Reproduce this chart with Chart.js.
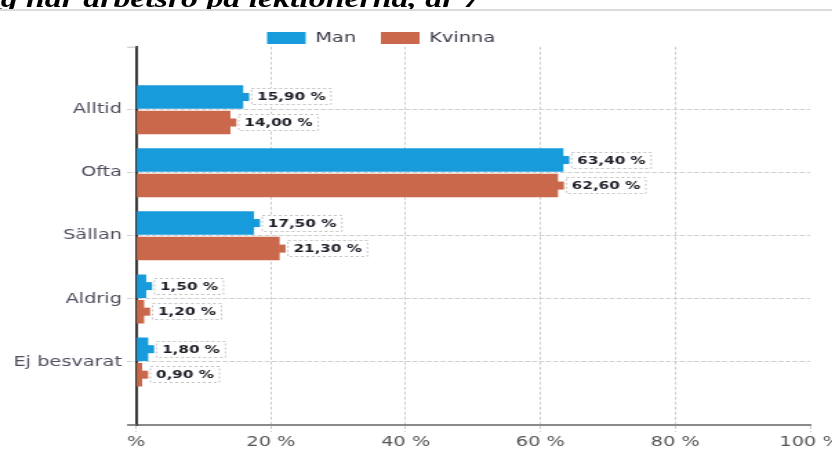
<!DOCTYPE html>
<html>
<head>
<meta charset="utf-8">
<script src="https://cdn.jsdelivr.net/npm/chart.js@4"></script>
<style>
html,body{margin:0;padding:0;background:#fff;}
#outer{position:relative;width:832px;height:452px;overflow:hidden;background:#fff;}
#inner{position:absolute;left:0;top:0;width:640px;height:452px;transform:scaleX(1.38);transform-origin:0 0;}
#chartBox{position:absolute;left:0;top:0;width:640px;height:452px;}
#titleClip{position:absolute;left:0;top:0;width:640px;height:9px;overflow:hidden;}
#title{position:absolute;left:-22px;top:-14px;white-space:nowrap;font-family:"Liberation Serif","DejaVu Serif","Times New Roman",serif;font-style:italic;font-weight:bold;font-size:24.5px;line-height:25px;color:#000;}
#rule{position:absolute;left:0;top:9px;width:640px;height:2px;background:#dadada;}
</style>
</head>
<body>
<div id="outer"><div id="inner">
  <div id="titleClip"><div id="title"><span id="pre">Ja</span>g har arbetsro på lektionerna, år 7</div></div>
  <div id="rule"></div>
  <div id="chartBox"><canvas id="c"></canvas></div>
</div></div>
<script>
const categories = ['Alltid', 'Ofta', 'Sällan', 'Aldrig', 'Ej besvarat'];
const seriesNames = ['Man', 'Kvinna'];
const manValues = [15.9, 63.4, 17.5, 1.5, 1.8];
const kvinnaValues = [14.0, 62.6, 21.3, 1.2, 0.9];
const xTickLabels = ['%', '20 %', '40 %', '60 %', '80 %', '100 %'];
const seriesColors = ['#179bdb', '#c9684a'];

const pre = document.getElementById('pre');
document.getElementById('title').style.left = (-pre.getBoundingClientRect().width / 1.38 + 0.5) + 'px';

Chart.defaults.font.family = '"DejaVu Sans", Verdana, sans-serif';

const valueLabels = {
  id: 'valueLabels',
  afterDatasetsDraw(chart) {
    const ctx = chart.ctx;
    ctx.save();
    ctx.font = 'bold 11px "DejaVu Sans"';
    chart.data.datasets.forEach((ds, di) => {
      const meta = chart.getDatasetMeta(di);
      meta.data.forEach((bar, i) => {
        const v = ds.data[i].x;
        const txt = v.toFixed(2).replace('.', ',') + ' %';
        const x = bar.x, y = bar.y;
        ctx.fillStyle = ds.backgroundColor;
        ctx.fillRect(x - 0.5, y - 4, 4.8, 8);
        const tw = ctx.measureText(txt).width;
        const bx = x + 5.5, bw = tw + 9, bh = 17, by = Math.round(y - 8.5);
        ctx.fillStyle = '#fff';
        ctx.fillRect(bx, by, bw, bh);
        ctx.setLineDash([2, 2]);
        ctx.strokeStyle = '#c4c4c4';
        ctx.lineWidth = 1;
        ctx.strokeRect(bx + 0.5, by + 0.5, bw - 1, bh - 1);
        ctx.setLineDash([]);
        ctx.fillStyle = '#1e1e28';
        ctx.textBaseline = 'middle';
        ctx.textAlign = 'left';
        ctx.fillText(txt, bx + 4.5, by + bh / 2 + 0.5);
      });
    });
    ctx.restore();
  }
};

const legendShift = {
  id: 'legendShift',
  afterLayout(chart) {
    const lg = chart.legend;
    if (!lg || !lg.lineWidths) return;
    const p = lg.options.labels.padding;
    const cur = (lg.left + p + lg.right - lg.lineWidths[0]) / 2;
    const dx = 193.5 - cur;
    lg.left += dx; lg.right += dx;
    lg.top += 8.3; lg.bottom += 8.3;
  }
};

const stubs = {
  id: 'stubs',
  afterDraw(chart) {
    const { ctx, chartArea: a } = chart;
    ctx.save();
    ctx.strokeStyle = '#c0c0c0';
    ctx.lineWidth = 1;
    ctx.beginPath(); ctx.moveTo(a.left - 6.5, a.top + 0.5); ctx.lineTo(a.left, a.top + 0.5); ctx.stroke();
    ctx.strokeStyle = '#8a8a8a';
    ctx.lineWidth = 2;
    ctx.beginPath(); ctx.moveTo(a.left - 6.5, a.bottom); ctx.lineTo(a.left, a.bottom); ctx.stroke();
    ctx.restore();
  }
};

new Chart(document.getElementById('c'), {
  type: 'bar',
  data: {
    datasets: [
      { label: seriesNames[0], data: manValues.map((v, i) => ({ x: v, y: i })), backgroundColor: seriesColors[0], borderWidth: 0 },
      { label: seriesNames[1], data: kvinnaValues.map((v, i) => ({ x: v, y: i })), backgroundColor: seriesColors[1], borderWidth: 0 }
    ]
  },
  options: {
    indexAxis: 'y',
    responsive: true,
    maintainAspectRatio: false,
    animation: false,
    categoryPercentage: 0.81,
    barPercentage: 0.92,
    layout: { padding: { top: 4.7, right: 53, bottom: 0, left: 0 } },
    plugins: {
      tooltip: { enabled: false },
      legend: {
        position: 'top',
        align: 'center',
        labels: { boxWidth: 28, boxHeight: 12, padding: 18, color: '#3a3a4a', font: { size: 14 } }
      }
    },
    scales: {
      x: {
        type: 'linear', min: 0, max: 100, position: 'bottom',
        ticks: { stepSize: 20, padding: 1.6, color: '#555', font: { size: 14 }, maxRotation: 0, autoSkip: false,
          callback: (v, i) => xTickLabels[i] ?? '' },
        grid: { color: (c) => (c.tick && c.tick.value === 100) ? 'rgba(0,0,0,0)' : '#cdcdcd', lineWidth: 1, tickLength: 7, tickColor: '#cdcdcd', tickBorderDash: [3, 2] },
        border: { color: '#8a8a8a', width: 2, dash: [3, 2] }
      },
      y: {
        type: 'linear', min: -1, max: 5, reverse: true, offset: false,
        afterBuildTicks: (s) => { s.ticks = categories.map((_, i) => ({ value: i })); },
        afterFit: (s) => { s.width = 98.6; },
        ticks: { color: '#4f4f5f', font: { size: 14 }, padding: 3.7, autoSkip: false,
          callback: (v) => categories[v] ?? '' },
        grid: { offset: false, color: '#cfcfcf', lineWidth: 1, tickLength: 6.5, tickColor: '#cfcfcf', tickBorderDash: [3.6, 1.5] },
        border: { color: '#3a3a3a', width: 2, dash: [3.6, 1.5] }
      }
    }
  },
  plugins: [valueLabels, legendShift, stubs]
});
</script>
</body>
</html>
